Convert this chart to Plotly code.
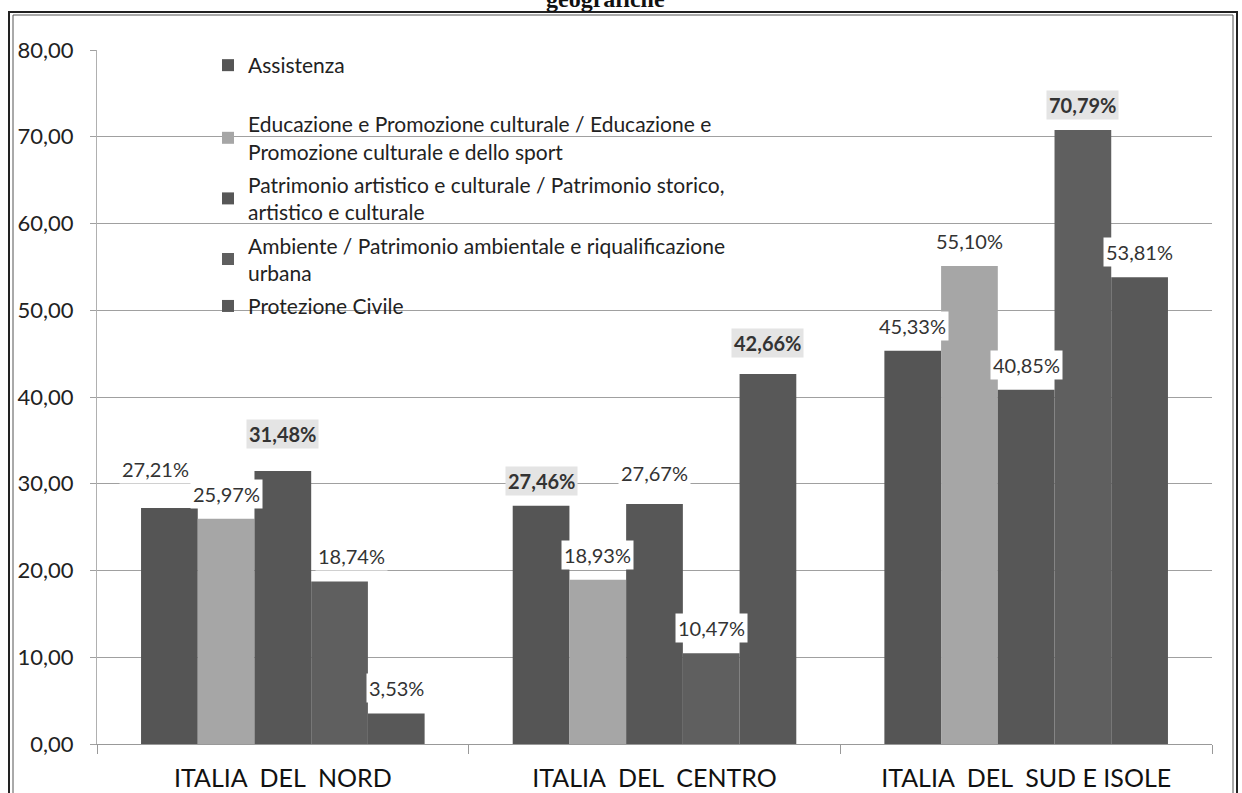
import plotly.graph_objects as go

# Regions and sectors
regioni = ["ITALIA DEL NORD", "ITALIA DEL CENTRO", "ITALIA DEL SUD E ISOLE"]
etichette_regioni = ["ITALIA\u00a0 DEL\u00a0 NORD", "ITALIA\u00a0 DEL\u00a0 CENTRO",
                     "ITALIA\u00a0 DEL\u00a0 SUD E ISOLE"]
settori = [
    "Assistenza",
    "Educazione e Promozione culturale / Educazione e<br>Promozione culturale e dello sport",
    "Patrimonio artistico e culturale / Patrimonio storico,<br>artistico e culturale",
    "Ambiente / Patrimonio ambientale e riqualificazione<br>urbana",
    "Protezione Civile",
]

# Percentages per sector (one list per sector, in region order)
assistenza = [27.21, 27.46, 45.33]
educazione = [25.97, 18.93, 55.10]
patrimonio = [31.48, 27.67, 40.85]
ambiente = [18.74, 10.47, 70.79]
protezione = [3.53, 42.66, 53.81]
valori = [assistenza, educazione, patrimonio, ambiente, protezione]

# Labels shown in bold in the original (sector index, region index)
grassetto = {(2, 0), (0, 1), (4, 1), (3, 2)}
# small nudges of some labels, (xshift, yshift) in px, as placed in the original
spostamenti = {(0, 0): (-14, 24), (2, 0): (0, 22), (3, 0): (12, 10),
               (2, 1): (0, 16), (4, 1): (0, 16)}

colori = ["#555555", "#a6a6a6", "#575757", "#5f5f5f", "#585858"]

BARGAP = 0.237
FONT = "Lato, Calibri, sans-serif"

fig = go.Figure()
for i, (nome, vals) in enumerate(zip(settori, valori)):
    fig.add_trace(go.Bar(
        x=regioni, y=vals, name=nome,
        marker=dict(color=colori[i], line=dict(width=0)),
        legend="legend" if i == 0 else "legend2",
        legendgroup=f"g{i}",
    ))

# Data labels above each bar
w = (1 - BARGAP) / len(settori)
for i, vals in enumerate(valori):
    for j, v in enumerate(vals):
        bold = (i, j) in grassetto
        dx, dy = spostamenti.get((i, j), (0, 10))
        testo = f"{v:.2f}%".replace(".", ",")
        fig.add_annotation(
            x=j + (i - 2) * w, y=v, xref="x", yref="y",
            text=f"<b>{testo}</b>" if bold else testo,
            showarrow=False, yanchor="bottom", xshift=dx, yshift=dy,
            font=dict(family=FONT, size=20, color="#333333"),
            bgcolor="#e4e4e4" if bold else "white",
            borderpad=2,
        )

# Cut-off title at the top of the scan
fig.add_annotation(
    x=(605 - 97) / 1115, y=(744 + 1) / 694, xref="paper", yref="paper",
    text="<b>geografiche</b>", showarrow=False, yanchor="middle",
    font=dict(family="Liberation Serif", size=24, color="#111111"),
)

# Double frame around the chart
fig.add_shape(type="rect", xref="paper", yref="paper",
              x0=(9 - 97) / 1115, x1=(1237 - 97) / 1115,
              y0=(744 - 805) / 694, y1=(744 - 12) / 694,
              line=dict(color="#222222", width=2))
fig.add_shape(type="rect", xref="paper", yref="paper",
              x0=(13 - 97) / 1115, x1=(1233 - 97) / 1115,
              y0=(744 - 805) / 694, y1=(744 - 15) / 694,
              line=dict(color="#555555", width=1))

legenda = dict(
    xanchor="left", yanchor="top", bgcolor="rgba(0,0,0,0)",
    traceorder="grouped", tracegroupgap=3,
    font=dict(family=FONT, size=21, color="#222222"),
)

fig.update_layout(
    width=1242, height=793,
    margin=dict(l=97, r=30, t=50, b=49),
    barmode="group", bargap=BARGAP, bargroupgap=0,
    paper_bgcolor="white", plot_bgcolor="white",
    separators=",.",
    font=dict(family=FONT, color="#222222"),
    showlegend=True,
    legend=dict(legenda, x=(208 - 97) / 1115, y=(744 - 45) / 694),
    legend2=dict(legenda, x=(208 - 97) / 1115, y=(744 - 104) / 694),
    xaxis=dict(
        automargin=False,
        tickmode="array", tickvals=regioni, ticktext=etichette_regioni,
        showline=True, linecolor="#999999", linewidth=1,
        ticks="outside", tickson="boundaries", ticklen=9, tickcolor="#999999",
        ticklabelstandoff=12,
        tickfont=dict(family=FONT, size=25, color="#111111"),
        showgrid=False,
    ),
    yaxis=dict(
        automargin=False,
        range=[0, 80], dtick=10, tickformat=".2f",
        showgrid=True, gridcolor="#a0a0a0", gridwidth=1,
        showline=True, linecolor="#b0b0b0", linewidth=1,
        ticks="outside", ticklen=6, tickcolor="#a0a0a0",
        ticklabelstandoff=12,
        tickfont=dict(family=FONT, size=22, color="#222222"),
        zeroline=False,
    ),
)

# drop the default body margin so the figure fills the window exactly
fig.write_html("out.html", config={"displayModeBar": False},
               post_script="document.body.style.margin='0';")
